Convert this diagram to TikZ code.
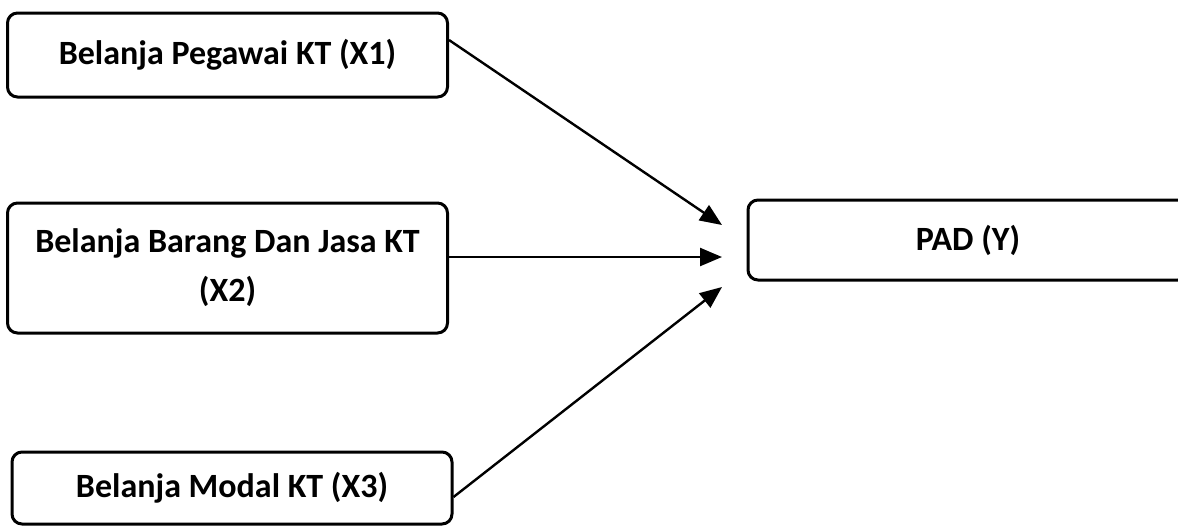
\documentclass[tikz,border=0pt]{standalone}
\usepackage{fontspec}
\setmainfont{Carlito}
\usetikzlibrary{arrows.meta}
\begin{document}
\begin{tikzpicture}[
	x=0.5pt,
	y=-0.5pt,
	font=\fontsize{17}{24.5}\selectfont\bfseries,
	var/.style={draw,line width=1.5pt,rounded corners=5pt,minimum width=220pt,align=center,inner sep=0pt},
	link/.style={line width=1.2pt,-{Triangle[length=11pt,width=9pt]}},
	]
\useasboundingbox (0,0) rectangle (1178,527);
% variables
\node [var,minimum height=42pt] (x1) at (227.5,55) {Belanja Pegawai KT (X1)};
\node [var,minimum height=65pt] (x2) at (227.5,268) {Belanja Barang Dan Jasa KT\\(X2)};
\node [var,minimum height=36pt] (x3) at (232,488) {Belanja Modal KT (X3)};
\node [var,minimum width=220pt,minimum height=40pt] (pad) at (968,240) {PAD (Y)};
% arrow ends
\coordinate (in1) at (722,225);
\coordinate (in2) at (722,257);
\coordinate (in3) at (722,287);
\draw [link] ([yshift=7.5pt]x1.east) -- (in1);
\draw [link] ([yshift=5.5pt]x2.east) -- (in2);
\draw [link] ([yshift=-4.5pt]x3.east) -- (in3);
\end{tikzpicture}
\end{document}
